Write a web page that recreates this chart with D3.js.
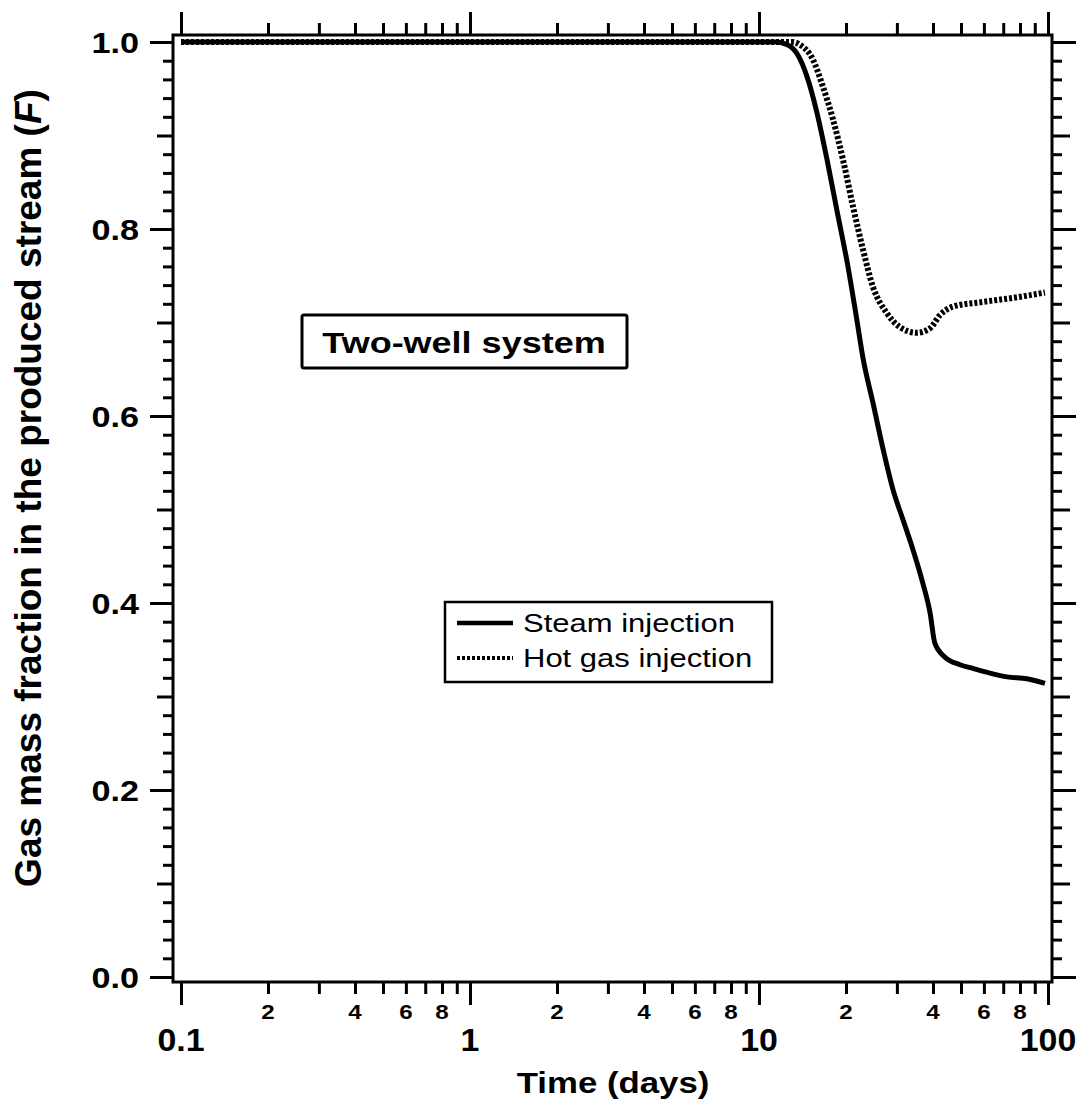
<!DOCTYPE html>
<html><head><meta charset="utf-8">
<script src="https://cdn.jsdelivr.net/npm/d3@7"></script>
<style>
body{margin:0;background:#fff;}
svg{display:block;}
text{font-family:"Liberation Sans",Arial,Helvetica,sans-serif;fill:#000;}
</style></head>
<body>
<svg id="chart" width="1082" height="1110"></svg>
<script>
// ---- data ----
const steamT = [0.1, 1, 10, 11.6, 12.3, 13.0, 13.5, 14.66, 15.88, 17.2, 18.6, 20.2, 21.8, 22.9, 24.8, 26.9, 29.1, 31.5, 34.1, 36.9, 39.1, 40.6, 44.0, 49.6, 55.0, 63.0, 72.1, 84.6, 97.6];
const steamF = [1.0, 1.0, 1.0, 1.0, 0.998, 0.994, 0.988, 0.963, 0.924, 0.874, 0.820, 0.764, 0.703, 0.662, 0.614, 0.564, 0.521, 0.489, 0.457, 0.421, 0.389, 0.357, 0.342, 0.334, 0.330, 0.325, 0.321, 0.319, 0.314];
const hotT = [0.1, 1, 10, 13.1, 13.87, 15.38, 16.65, 18.04, 19.53, 21.15, 22.9, 24.8, 27.7, 30.75, 35.2, 39.1, 42.3, 46.9, 59.6, 78.1, 97.6];
const hotF = [1.0, 1.0, 1.0, 1.0, 0.997, 0.981, 0.952, 0.917, 0.874, 0.824, 0.778, 0.738, 0.710, 0.695, 0.689, 0.694, 0.708, 0.717, 0.722, 0.727, 0.732];
const seriesNames = ["Steam injection", "Hot gas injection"];
const xMajorTicks = [0.1, 1, 10, 100];
const xMajorLabels = ["0.1", "1", "10", "100"];
const xMinorLabelDigits = [2, 4, 6, 8];
const yMajorTicks = [0, 0.2, 0.4, 0.6, 0.8, 1.0];
const yLabels = ["0.0", "0.2", "0.4", "0.6", "0.8", "1.0"];
const annotation = "Two-well system";
const xTitle = "Time (days)";

// ---- layout ----
const svg = d3.select("#chart");
const x = d3.scaleLog().domain([0.1, 100]).range([181, 1048]);
const y = d3.scaleLinear().domain([0, 1]).range([977, 42]);
const frame = {l: 173, r: 1052, t: 35, b: 982};

const decadeMinors = [];
[0.1, 1, 10].forEach(d => { for (let k = 2; k <= 9; k++) decadeMinors.push(+(d * k).toPrecision(3)); });
const yMedium = d3.range(0.1, 1.0, 0.2).map(v => +v.toFixed(2));
const yMinor = d3.range(0, 51).map(i => +(i * 0.02).toFixed(2)).filter(v => Math.round(v * 100) % 10 !== 0);

function styleAxis(g) {
  g.select(".domain").remove();
  g.selectAll(".tick line").attr("stroke", "#000").attr("stroke-width", 3);
  g.selectAll(".tick text").remove();
}
function addAxis(axis, tx, ty) {
  svg.append("g").attr("transform", `translate(${tx},${ty})`).call(axis).call(styleAxis);
}

addAxis(d3.axisBottom(x).tickValues(xMajorTicks).tickSize(23).tickFormat(""), 0, frame.b);
addAxis(d3.axisBottom(x).tickValues(decadeMinors).tickSize(12).tickFormat(""), 0, frame.b);
addAxis(d3.axisTop(x).tickValues(xMajorTicks).tickSize(23).tickFormat(""), 0, frame.t);
addAxis(d3.axisTop(x).tickValues(decadeMinors).tickSize(12).tickFormat(""), 0, frame.t);
addAxis(d3.axisLeft(y).tickValues(yMajorTicks).tickSize(23).tickFormat(""), frame.l, 0);
addAxis(d3.axisLeft(y).tickValues(yMedium).tickSize(16).tickFormat(""), frame.l, 0);
addAxis(d3.axisLeft(y).tickValues(yMinor).tickSize(10).tickFormat(""), frame.l, 0);
addAxis(d3.axisRight(y).tickValues(yMajorTicks).tickSize(24).tickFormat(""), frame.r, 0);
addAxis(d3.axisRight(y).tickValues(yMedium).tickSize(18).tickFormat(""), frame.r, 0);
addAxis(d3.axisRight(y).tickValues(yMinor).tickSize(10).tickFormat(""), frame.r, 0);

// frame
svg.append("rect").attr("x", frame.l).attr("y", frame.t)
  .attr("width", frame.r - frame.l).attr("height", frame.b - frame.t)
  .attr("fill", "none").attr("stroke", "#000").attr("stroke-width", 3);

// x labels
svg.append("g").selectAll("text").data(xMajorTicks).join("text")
  .attr("transform", d => `translate(${x(d)},1040) scale(1.06,1)`).attr("dy", "0.35em")
  .attr("text-anchor", "middle").attr("font-weight", "bold").attr("font-size", 32)
  .text((d, i) => xMajorLabels[i]);
const minorLabelVals = [];
[0.1, 1, 10].forEach(d => xMinorLabelDigits.forEach(k => minorLabelVals.push({v: d * k, t: String(k)})));
svg.append("g").selectAll("text").data(minorLabelVals).join("text")
  .attr("transform", d => `translate(${x(d.v)},1012) scale(1.15,1)`).attr("dy", "0.35em")
  .attr("text-anchor", "middle").attr("font-weight", "bold").attr("font-size", 21)
  .text(d => d.t);
// y labels
svg.append("g").selectAll("text").data(yMajorTicks).join("text")
  .attr("transform", d => `translate(139,${y(d)}) scale(1.14,1)`).attr("dy", "0.35em")
  .attr("text-anchor", "end").attr("font-weight", "bold").attr("font-size", 30)
  .text((d, i) => yLabels[i]);

// titles
svg.append("text").attr("transform", "translate(613,1082) scale(1.16,1)").attr("dy", "0.35em")
  .attr("text-anchor", "middle").attr("font-weight", "bold").attr("font-size", 30)
  .text(xTitle);
const yt = svg.append("text").attr("transform", "translate(28,488) rotate(-90)")
  .attr("dy", "0.35em").attr("text-anchor", "middle").attr("font-weight", "bold").attr("font-size", 37);
yt.append("tspan").text("Gas mass fraction in the produced stream (");
yt.append("tspan").attr("font-style", "italic").text("F");
yt.append("tspan").text(")");

// lines
const line = d3.line().x(d => x(d[0])).y(d => y(d[1])).curve(d3.curveMonotoneX);
const hotData = hotT.map((t, i) => [t, hotF[i]]);
const steamData = steamT.map((t, i) => [t, steamF[i]]);
svg.append("path").datum(hotData).attr("d", line)
  .attr("fill", "none").attr("stroke", "#000").attr("stroke-width", 6)
  .attr("stroke-dasharray", "3,2");
svg.append("path").datum(steamData).attr("d", line)
  .attr("fill", "none").attr("stroke", "#000").attr("stroke-width", 5);

// annotation box
svg.append("rect").attr("x", 302).attr("y", 315).attr("width", 325).attr("height", 53)
  .attr("fill", "#fff").attr("stroke", "#000").attr("stroke-width", 3).attr("rx", 2);
svg.append("text").attr("transform", "translate(464,342) scale(1.2,1)").attr("dy", "0.35em")
  .attr("text-anchor", "middle").attr("font-weight", "bold").attr("font-size", 30)
  .text(annotation);

// legend
svg.append("rect").attr("x", 445).attr("y", 602).attr("width", 327).attr("height", 80)
  .attr("fill", "#fff").attr("stroke", "#000").attr("stroke-width", 2.5);
const legY = [623, 658];
seriesNames.forEach((name, i) => {
  svg.append("line").attr("x1", 457).attr("x2", 513).attr("y1", legY[i]).attr("y2", legY[i])
    .attr("stroke", "#000").attr("stroke-width", i === 0 ? 4.5 : 4)
    .attr("stroke-dasharray", i === 0 ? null : "3,2");
  svg.append("text").attr("transform", `translate(523,${legY[i]}) scale(1.24,1)`).attr("dy", "0.35em")
    .attr("font-size", 25).text(name);
});
</script>
</body></html>
